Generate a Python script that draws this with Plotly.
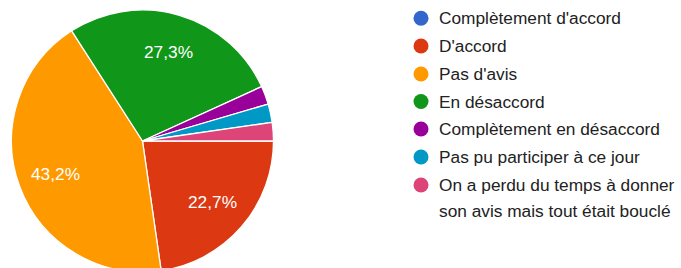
import math
import plotly.graph_objects as go

labels = [
    "Complètement d'accord",
    "D'accord",
    "Pas d'avis",
    "En désaccord",
    "Complètement en désaccord",
    "Pas pu participer à ce jour",
    "On a perdu du temps à donner son avis mais tout était bouclé",
]
legend_lines = [
    ["Complètement d'accord"],
    ["D'accord"],
    ["Pas d'avis"],
    ["En désaccord"],
    ["Complètement en désaccord"],
    ["Pas pu participer à ce jour"],
    ["On a perdu du temps à donner", "son avis mais tout était bouclé"],
]
counts = [0, 10, 19, 12, 1, 1, 1]
colors = ["#3366cc", "#dc3912", "#ff9900", "#109618", "#990099", "#0099c6", "#dd4477"]

W, H = 681, 272
T = 10
HP = H - T  # plot-area height in px


def px(x):
    return x / W


def py(y):
    return 1 - (y - T) / HP


PIE_X0, PIE_X1 = 11.5, 273.5
fig = go.Figure(go.Pie(
    labels=labels,
    values=counts,
    sort=False,
    direction="clockwise",
    rotation=90,
    marker=dict(colors=colors, line=dict(color="white", width=1.3)),
    textinfo="none",
    showlegend=False,
    hoverinfo="label+percent",
    domain=dict(x=[px(PIE_X0), px(PIE_X1)], y=[0, 1]),
))

# percentage labels (Google style: placed at ~0.7 R, comma decimal)
total = sum(counts)
R = HP / 2
CX, CY = (PIE_X0 + PIE_X1) / 2, T + R
annotations = []
cum = 0
for c in counts:
    frac = c / total
    mid = (cum + frac / 2) * 2 * math.pi
    cum += frac
    if frac > 0.05:
        lx = CX + 0.71 * R * math.cos(mid)
        ly = CY + 0.71 * R * math.sin(mid)
        annotations.append(dict(text=f"{frac * 100:.1f}%".replace(".", ","),
                                xref="paper", yref="paper", x=px(lx), y=py(ly),
                                xanchor="center", yanchor="middle", showarrow=False,
                                font=dict(family="Liberation Sans, Arial", size=17.3, color="white")))

row_y = [18.3, 46, 74, 101.5, 129, 157, 185]
line_gap = 26
shapes = []
r = 7.5
cx = 421
for i, lines in enumerate(legend_lines):
    cy = row_y[i]
    shapes.append(dict(type="circle", xref="paper", yref="paper",
                       x0=px(cx - r), x1=px(cx + r),
                       y0=py(cy + r), y1=py(cy - r),
                       fillcolor=colors[i], line=dict(width=0)))
    for j, t in enumerate(lines):
        annotations.append(dict(text=t, xref="paper", yref="paper",
                                x=px(437), y=py(cy + j * line_gap),
                                xanchor="left", yanchor="middle", showarrow=False,
                                font=dict(family="Liberation Sans, Arial", size=17.3, color="#222222")))

fig.update_layout(
    width=W, height=H,
    margin=dict(l=0, r=0, t=T, b=0),
    paper_bgcolor="white",
    shapes=shapes,
    annotations=annotations,
)

fig.write_html("out.html", config={"displayModeBar": False},
               post_script="document.documentElement.style.overflow='hidden';document.body.style.overflow='hidden';document.body.style.margin='0';")
